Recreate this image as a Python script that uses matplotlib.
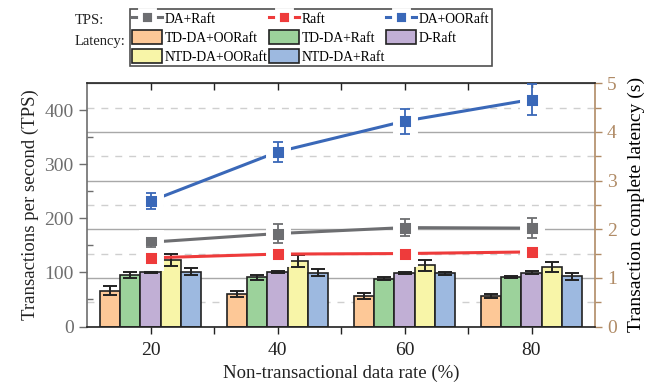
import matplotlib
matplotlib.use("Agg")
import matplotlib.pyplot as plt
import numpy as np

plt.rcParams['font.family'] = ['Liberation Serif', 'DejaVu Serif']
plt.rcParams['mathtext.fontset'] = 'stix'

# data
rates = [20, 40, 60, 80]
rate_labels = ['20', '40', '60', '80']

# TPS (left axis)
tps_da_raft = [156, 172, 183, 182]
tps_da_raft_err = [8, 17, 15, 18]
tps_raft = [127, 134, 135, 138]
tps_da_ooraft = [232, 323, 380, 420]
tps_da_ooraft_err = [15, 19, 23, 28]

# latency (right axis)
lat_names = ['TD-DA+OORaft', 'TD-DA+Raft', 'D-Raft', 'NTD-DA+OORaft', 'NTD-DA+Raft']
lat_td_da_ooraft = [0.74, 0.67, 0.62, 0.63]
lat_td_da_ooraft_err = [0.09, 0.07, 0.06, 0.04]
lat_td_da_raft = [1.06, 1.01, 0.98, 1.01]
lat_td_da_raft_err = [0.06, 0.05, 0.03, 0.02]
lat_d_raft = [1.12, 1.12, 1.10, 1.11]
lat_d_raft_err = [0.02, 0.02, 0.03, 0.03]
lat_ntd_da_ooraft = [1.37, 1.34, 1.26, 1.23]
lat_ntd_da_ooraft_err = [0.13, 0.12, 0.11, 0.10]
lat_ntd_da_raft = [1.13, 1.11, 1.09, 1.03]
lat_ntd_da_raft_err = [0.08, 0.07, 0.04, 0.07]

bar_colors = ['#FDC897', '#9CD29B', '#C1AFD5', '#F8F5A8', '#9DB9E0']
right_col = '#B08B66'

fig = plt.figure(figsize=(6.46, 3.89), dpi=100)
ax = fig.add_axes([87/646, 1-326.5/389, (595-87)/646, (326.5-83.3)/389])
ax2 = ax.twinx()
ax.set_zorder(ax2.get_zorder() + 1)
ax.patch.set_visible(False)

# bars on the latency axis
lat_vals = [lat_td_da_ooraft, lat_td_da_raft, lat_d_raft, lat_ntd_da_ooraft, lat_ntd_da_raft]
lat_errs = [lat_td_da_ooraft_err, lat_td_da_raft_err, lat_d_raft_err,
            lat_ntd_da_ooraft_err, lat_ntd_da_raft_err]
w = 3.2
x = np.array(rates, dtype=float)
bar_handles = []
for i in range(5):
    pos = x + (i - 2) * w
    b = ax2.bar(pos, lat_vals[i], w, color=bar_colors[i], edgecolor='#222222',
                linewidth=1.2, zorder=2, label=lat_names[i])
    ax2.errorbar(pos, lat_vals[i], yerr=lat_errs[i], fmt='none', ecolor='#222222',
                 elinewidth=1.4, capsize=5, capthick=1.4, zorder=3)
    bar_handles.append(b)

ax2.set_ylim(0, 5)
ax2.set_yticks([0, 1, 2, 3, 4, 5])
ax2.set_yticks([0.5, 1.5, 2.5, 3.5, 4.5], minor=True)
ax2.set_axisbelow(True)
ax2.grid(True, which='major', axis='y', color='#A8A8A8', lw=1.0, ls='-')
ax2.grid(True, which='minor', axis='y', color='#CFCFCF', lw=1.0, ls=(0, (5, 5)))
ax2.tick_params(axis='y', which='both', direction='out', colors=right_col,
                labelsize=14, length=5, width=1)
ax2.tick_params(axis='y', which='minor', length=4)
ax2.set_ylabel('Transaction complete latency (s)', fontsize=14, labelpad=8)
ax2.spines['right'].set_color(right_col)
ax2.spines['right'].set_linewidth(1.2)
ax2.spines['left'].set_visible(False)
ax2.spines['top'].set_visible(False)
ax2.spines['bottom'].set_visible(False)

# TPS lines on the left axis
line_specs = [
    (tps_da_raft, tps_da_raft_err, '#6D6E71', 'DA+Raft'),
    (tps_raft, None, '#EE3B3B', 'Raft'),
    (tps_da_ooraft, tps_da_ooraft_err, '#3A68B8', 'DA+OORaft'),
]
line_handles = []
for vals, err, col, name in line_specs:
    ln, = ax.plot(rates, vals, color=col, lw=2.2, marker='s', markersize=13,
                  markerfacecolor=col, markeredgecolor='white', markeredgewidth=5,
                  zorder=5, label=name)
    if err is not None:
        ax.errorbar(rates, vals, yerr=err, fmt='none', ecolor=col, elinewidth=1.3,
                    capsize=3.5, capthick=1.3, zorder=6)
    line_handles.append(ln)

ax.set_xlim(10, 90)
ax.set_ylim(0, 450)
ax.set_xticks(rates)
ax.set_xticklabels(rate_labels)
ax.set_xticks([30, 50, 70], minor=True)
ax.set_yticks([0, 100, 200, 300, 400])
ax.set_yticks([50, 150, 250, 350], minor=True)
ax.tick_params(axis='x', which='both', direction='out', length=5, width=1,
               labelsize=14, colors='#222222', pad=6)
ax.tick_params(axis='y', which='major', direction='out', length=6, width=1,
               labelsize=14, colors='#6E6E6E')
ax.tick_params(axis='y', which='minor', direction='in', length=4, width=1,
               colors='#6E6E6E')
ax.set_xlabel('Non-transactional data rate (%)', fontsize=13.5, color='#222222')
ax.set_ylabel('Transactions per second (TPS)', fontsize=13.5, color='#222222')
ax.spines['left'].set_color('#6E6E6E')
ax.spines['left'].set_linewidth(1.2)
ax.spines['bottom'].set_color('#222222')
ax.spines['bottom'].set_linewidth(1.2)
ax.spines['top'].set_color('#222222')
ax.spines['top'].set_linewidth(1.2)
ax.spines['right'].set_visible(False)

top = ax.secondary_xaxis('top')
top.set_xticks(rates)
top.set_xticks([30, 50, 70], minor=True)
top.tick_params(axis='x', which='both', direction='in', length=5, width=1,
                labeltop=False, colors='#222222')
top.spines['top'].set_visible(False)

# legend
handles = [line_handles[0], bar_handles[0], bar_handles[3],
           line_handles[1], bar_handles[1], bar_handles[4],
           line_handles[2], bar_handles[2]]
leg = fig.legend(handles=handles, labels=[h.get_label() for h in handles],
                 ncol=3, loc='upper left', bbox_to_anchor=(130/646, 1-9/389),
                 frameon=True, fancybox=False, edgecolor='#222222', fontsize=9.8,
                 handlelength=2.2, handleheight=1.25, handletextpad=0.2,
                 columnspacing=0.1, labelspacing=0.3, borderpad=0.15,
                 borderaxespad=0)
leg.get_frame().set_linewidth(1.2)
for h in leg.legend_handles:
    if hasattr(h, 'set_markersize'):
        h.set_markersize(10)
        h.set_markeredgewidth(3.5)

fig.text(75/646, 1-21/389, 'TPS:', fontsize=10.5, va='center', ha='left', color='#222222')
fig.text(75/646, 1-42/389, 'Latency:', fontsize=10.5, va='center', ha='left', color='#222222')

fig.savefig('out.png', dpi=100)
